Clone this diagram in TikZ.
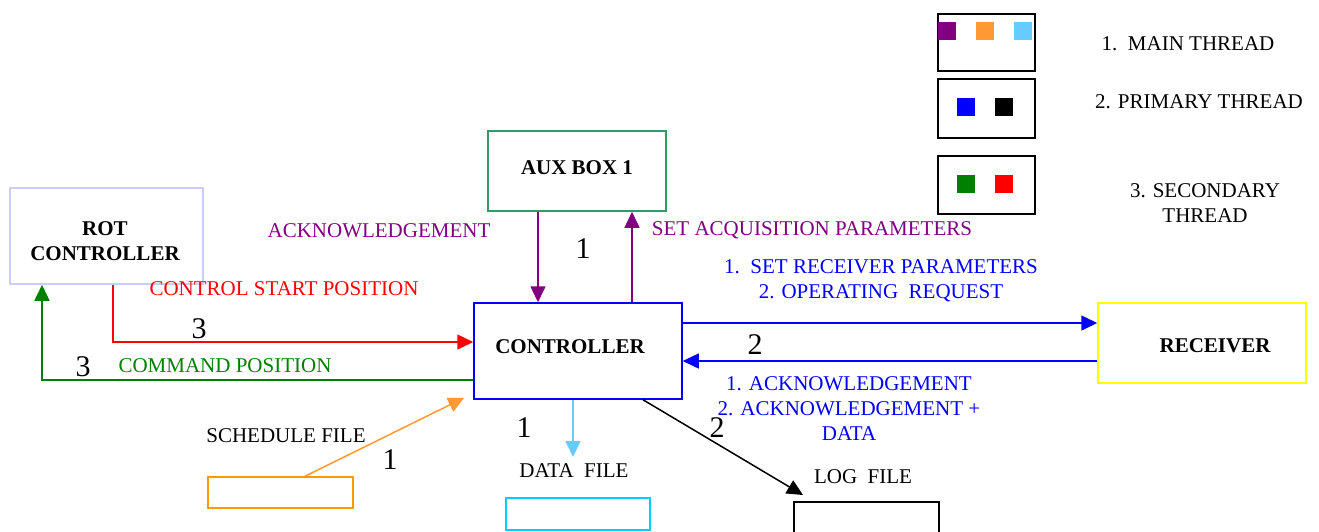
\documentclass[tikz,border=0pt]{standalone}
\usepackage{fontspec}
\setmainfont{Liberation Serif}
\usetikzlibrary{arrows.meta}

\definecolor{acqpurple}{HTML}{800080}
\definecolor{rcvblue}{HTML}{0000FF}
\definecolor{posred}{HTML}{FF0000}
\definecolor{cmdgreen}{HTML}{008000}
\definecolor{schedorange}{HTML}{FF9933}
\definecolor{schedbox}{HTML}{FF9900}
\definecolor{datablue}{HTML}{66CCFF}
\definecolor{databox}{HTML}{00CCFF}
\definecolor{auxgreen}{HTML}{339966}
\definecolor{rotlavender}{HTML}{CCCCFF}
\definecolor{rcvyellow}{HTML}{FFFF00}

\begin{document}
\begin{tikzpicture}[x=1pt,y=-1pt,
  unit/.style={draw, line width=1.5pt, inner sep=0pt},
  unittext/.style={inner sep=0pt, align=center,
    font=\fontsize{21}{25}\selectfont\bfseries},
  filebox/.style={draw, line width=1.5pt, inner sep=0pt},
  legendbox/.style={draw=black, line width=2pt, inner sep=0pt,
    minimum width=97pt},
  swatch/.style={minimum size=18pt, inner sep=0pt},
  lbl/.style={inner sep=0pt, align=center, font=\fontsize{21}{25}\selectfont},
  num/.style={inner sep=0pt, font=\fontsize{30}{30}\selectfont},
  flow/.style={line width=1.5pt, -{Triangle[length=16pt,width=15pt]}}]
\useasboundingbox (0,0) rectangle (1319,531);

% thread legend
\node[legendbox, minimum height=57pt] (leg1) at (986,42) {};
\node[legendbox, minimum height=59pt] (leg2) at (986,108.5) {};
\node[legendbox, minimum height=58pt] (leg3) at (986,185) {};
\node[swatch, fill=acqpurple] (sw1a) at (946.5,31) {};
\node[swatch, fill=schedorange] (sw1b) at (985,31) {};
\node[swatch, fill=datablue] (sw1c) at (1023,31) {};
\node[swatch, fill=rcvblue] (sw2a) at (966,107) {};
\node[swatch, fill=black] (sw2b) at (1004,107) {};
\node[swatch, fill=cmdgreen] (sw3a) at (966,184) {};
\node[swatch, fill=posred] (sw3b) at (1004,184) {};
\node[lbl] (legt1) at (1188,43.5) {1.\ \ MAIN THREAD};
\node[lbl] (legt2) at (1199,102) {2. PRIMARY THREAD};
\node[lbl] (legt3) at (1205,203.5) {3. SECONDARY\\THREAD};

% units, each with its title set inside
\node[unit, draw=rotlavender, minimum width=193pt, minimum height=96pt,
  label={[unittext, xshift=-1.5pt, yshift=-5.5pt]center:ROT\\CONTROLLER}] (rot) at (106.5,236) {};
\node[unit, draw=auxgreen, minimum width=178pt, minimum height=80pt,
  label={[unittext, yshift=3pt]center:AUX BOX 1}] (aux) at (577,171) {};
\node[unit, draw=rcvblue, minimum width=208pt, minimum height=96pt,
  label={[unittext, xshift=-8pt, yshift=4.5pt]center:CONTROLLER}] (ctrl) at (578,351) {};
\node[unit, draw=rcvyellow, minimum width=208pt, minimum height=80pt,
  label={[unittext, xshift=13pt, yshift=-2.5pt]center:RECEIVER}] (rcv) at (1202,343) {};

% files
\node[filebox, draw=schedbox, minimum width=145pt, minimum height=31pt] (sched) at (280.5,492.5) {};
\node[filebox, draw=databox, minimum width=144pt, minimum height=32pt] (data) at (578,514) {};
\node[filebox, draw=black, minimum width=145pt, minimum height=44pt] (log) at (866.5,524) {};
\node[lbl] (schedt) at (286,435.5) {SCHEDULE FILE};
\node[lbl] (datat) at (574,470.5) {DATA\ \ FILE};
\node[lbl] (logt) at (863,476.5) {LOG\ \ FILE};

% free ends of file connectors
\coordinate (schedtip) at ([xshift=-9pt,yshift=2pt]ctrl.south west);
\coordinate (datatip) at (573,457);
\coordinate (logtip) at (803,495);

% AUX BOX 1 exchange
\draw[flow, acqpurple] ([xshift=-39pt]aux.south) -- ([xshift=-40pt]ctrl.north);
\draw[flow, acqpurple] ([xshift=54pt]ctrl.north) -- ([xshift=55pt]aux.south);
\node[lbl, text=acqpurple] (ackaux) at (379,230.5) {ACKNOWLEDGEMENT};
\node[lbl, text=acqpurple] (setacq) at (812,230.5) {SET ACQUISITION PARAMETERS};
\node[num] (n1aux) at (583,249) {1};

% receiver exchange
\draw[flow, rcvblue] ([yshift=28pt]ctrl.east) -- ([yshift=20pt]rcv.west);
\draw[flow, rcvblue] ([yshift=-18pt]rcv.west) -- ([yshift=-10pt]ctrl.east);
\node[lbl, text=rcvblue] (setrcv) at (881,281) {1.\ \ SET RECEIVER PARAMETERS\\2. OPERATING\ \ REQUEST};
\node[lbl, text=rcvblue] (ackrcv) at (849,409) {1. ACKNOWLEDGEMENT\\2. ACKNOWLEDGEMENT +\\DATA};
\node[num] (n2rcv) at (755,345) {2};

% rotator exchange
\draw[flow, posred] ([xshift=6.5pt]rot.south) |- ([yshift=9pt]ctrl.west);
\draw[flow, cmdgreen] ([yshift=-29pt]ctrl.west) -| ([xshift=-64.5pt]rot.south);
\node[lbl, text=posred] (startpos) at (284,288.5) {CONTROL START POSITION};
\node[lbl, text=cmdgreen] (cmdpos) at (225,365.5) {COMMAND POSITION};
\node[num] (n3a) at (199,329) {3};
\node[num] (n3b) at (83,367) {3};

% file connectors
\draw[flow, schedorange] ([xshift=24.5pt]sched.north) -- (schedtip);
\draw[flow, datablue] ([xshift=-5pt]ctrl.south) -- (datatip);
\draw[flow, black] ([xshift=65pt]ctrl.south) -- (logtip);
\node[num] (n1sched) at (390,460) {1};
\node[num] (n1data) at (524,428) {1};
\node[num] (n2log) at (717,428) {2};
\end{tikzpicture}
\end{document}
